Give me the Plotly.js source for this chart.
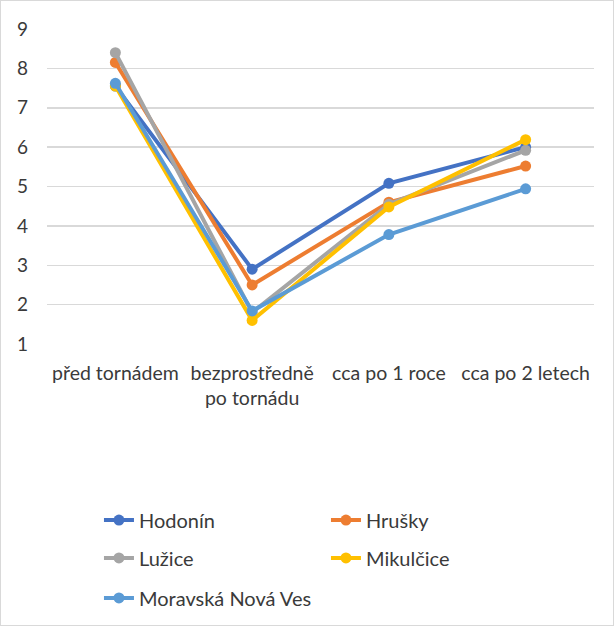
<!DOCTYPE html>
<html>
<head>
<meta charset="utf-8">
<script src="https://cdn.plot.ly/plotly-3.0.1.min.js"></script>
<style>
html,body{margin:0;padding:0;background:#fff;}
#chart{width:612px;height:624px;border:1px solid #d9d9d9;}
</style>
</head>
<body>
<div id="chart"></div>
<script>
const categories = ["před tornádem", "bezprostředně<br>po tornádu", "cca po 1 roce", "cca po 2 letech"];
const seriesNames = ["Hodonín", "Hrušky", "Lužice", "Mikulčice", "Moravská Nová Ves"];
const hodonin = [7.55, 2.9, 5.08, 6.0];
const hrusky = [8.15, 2.5, 4.6, 5.52];
const luzice = [8.4, 1.8, 4.55, 5.92];
const mikulcice = [7.55, 1.6, 4.48, 6.19];
const moravskaNovaVes = [7.62, 1.84, 3.78, 4.94];
const seriesValues = [hodonin, hrusky, luzice, mikulcice, moravskaNovaVes];
const colors = ["#4472C4", "#ED7D31", "#A5A5A5", "#FFC000", "#5B9BD5"];
const legendIds = ["legend", "legend", "legend2", "legend2", "legend3"];
const yTicks = [1, 2, 3, 4, 5, 6, 7, 8, 9];

const font = "Lato, 'Open Sans', sans-serif";
const textColor = "#3a3a3a";

const traces = seriesNames.map((name, i) => ({
  type: "scatter",
  mode: "lines+markers",
  name: name,
  x: categories,
  y: seriesValues[i],
  line: {color: colors[i], width: 4},
  marker: {color: colors[i], size: 11},
  legend: legendIds[i]
}));

function leg(y) {
  return {
    orientation: "h",
    x: 0.095, xanchor: "left",
    y: y, yanchor: "middle",
    entrywidth: 182, entrywidthmode: "pixels",
    font: {family: font, size: 20, color: textColor},
    bgcolor: "rgba(0,0,0,0)",
    traceorder: "normal"
  };
}

const layout = {
  width: 612, height: 624,
  margin: {l: 46, r: 19, t: 28, b: 281, autoexpand: false},
  paper_bgcolor: "#fff",
  plot_bgcolor: "#fff",
  showlegend: true,
  font: {family: font, size: 19.5, color: textColor},
  xaxis: {
    type: "category",
    range: [-0.5, 3.5],
    showgrid: false,
    zeroline: false,
    showline: false,
    ticks: "",
    ticklabelstandoff: 15,
    tickfont: {family: font, size: 19.5, color: textColor},
    automargin: false
  },
  yaxis: {
    range: [1, 9],
    tickvals: yTicks,
    ticktext: yTicks.map(String),
    showgrid: true,
    gridcolor: "#d9d9d9",
    gridwidth: 1.5,
    zeroline: false,
    showline: false,
    ticks: "",
    ticklabelstandoff: 18,
    tickfont: {family: font, size: 19, color: textColor},
    automargin: false
  },
  legend: leg(-0.559),
  legend2: leg(-0.679),
  legend3: leg(-0.806)
};

Plotly.newPlot("chart", traces, layout, {displayModeBar: false, staticPlot: true});
</script>
</body>
</html>
